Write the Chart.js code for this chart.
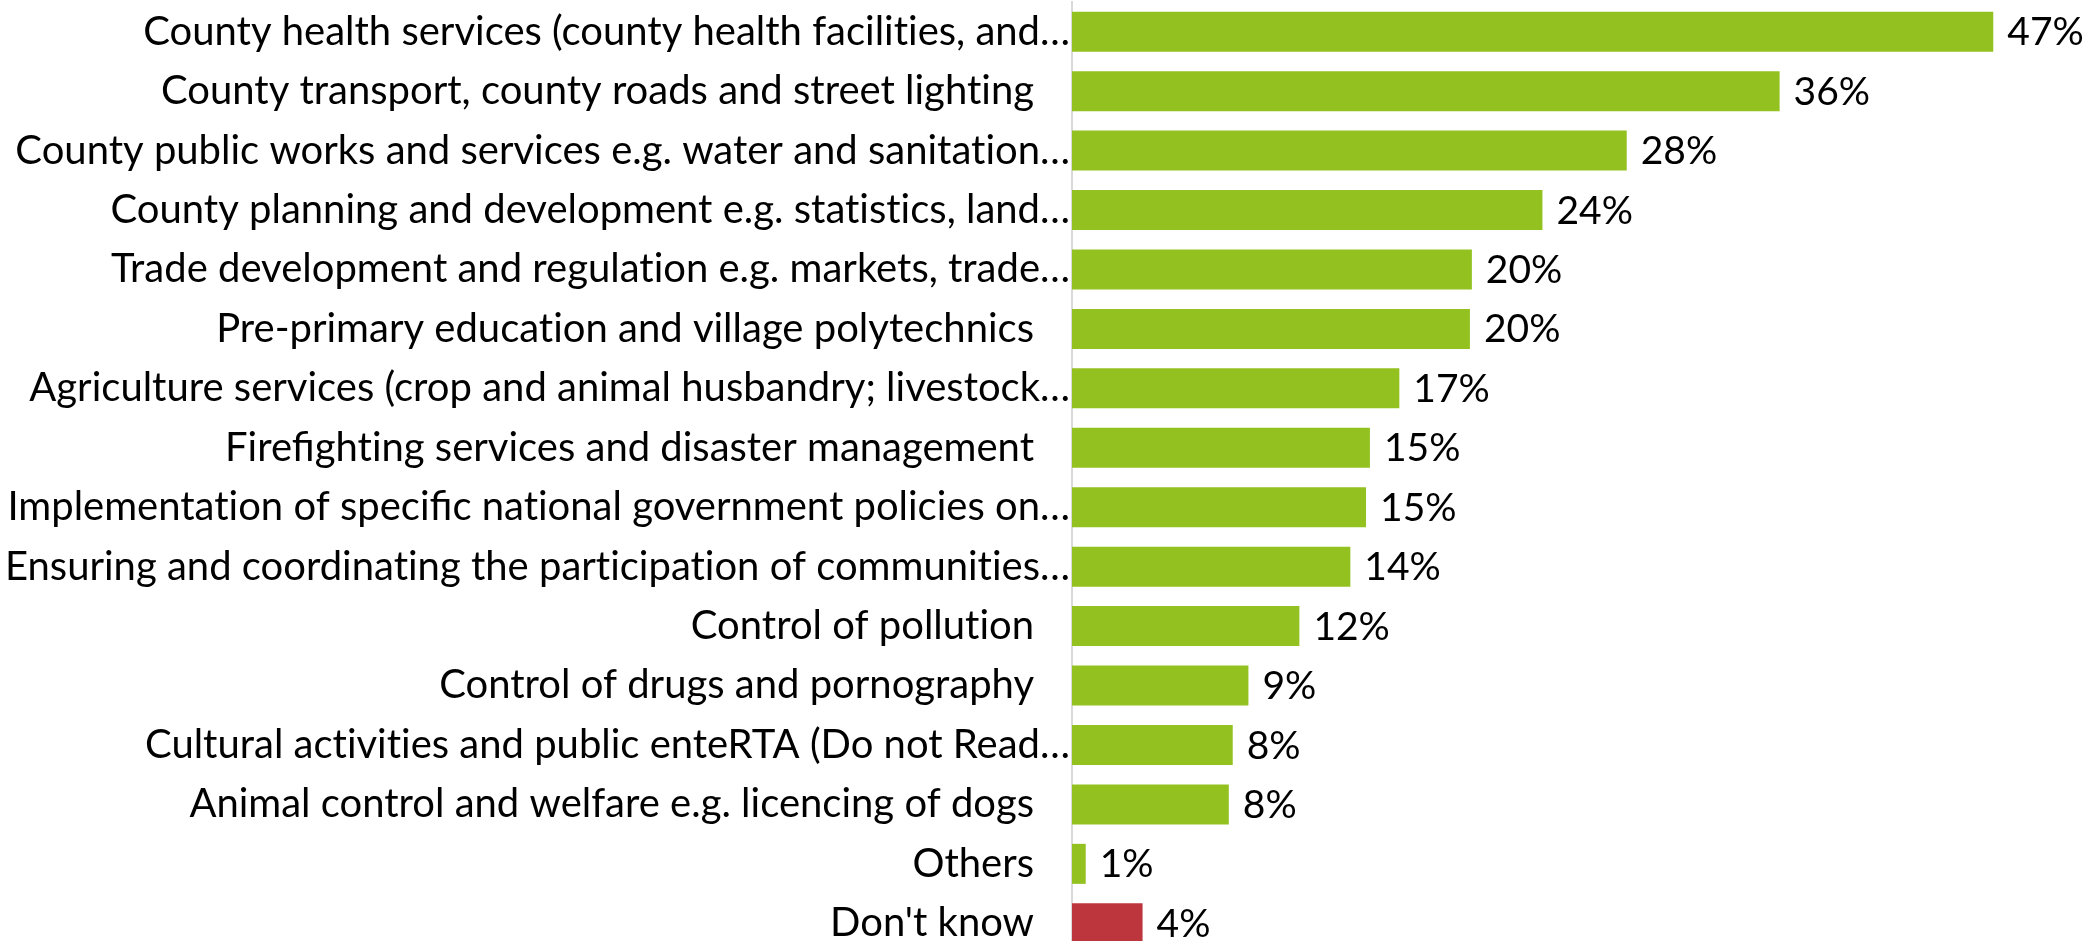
<!DOCTYPE html>
<html>
<head>
<meta charset="utf-8">
<script src="https://cdn.jsdelivr.net/npm/chart.js@4"></script>
<style>
  html, body { margin: 0; padding: 0; background: #ffffff; overflow: hidden; }
  #wrap { width: 2085px; height: 953px; }
</style>
</head>
<body>
<div id="wrap"><canvas id="chart" width="2085" height="953"></canvas></div>
<script>
// DATA
const categories = [
    "County health services (county health facilities, and\u2026",
    "County transport, county roads and street lighting",
    "County public works and services e.g. water and sanitation\u2026",
    "County planning and development e.g. statistics, land\u2026",
    "Trade development and regulation e.g. markets, trade\u2026",
    "Pre-primary education and village polytechnics",
    "Agriculture services (crop and animal husbandry; livestock\u2026",
    "Firefighting services and disaster management",
    "Implementation of specific national government policies on\u2026",
    "Ensuring and coordinating the participation of communities\u2026",
    "Control of pollution",
    "Control of drugs and pornography",
    "Cultural activities and public enteRTA (Do not Read\u2026",
    "Animal control and welfare e.g. licencing of dogs",
    "Others",
    "Don't know"
];
const shares = [47.0, 36.1, 28.3, 24.0, 20.4, 20.3, 16.7, 15.2, 15.0, 14.2, 11.6, 9.0, 8.2, 8.0, 0.7, 3.6];
const barColors = categories.map(c => c === "Don't know" ? "#be363d" : "#93c11f");

const CAT_FONT = "40px Lato, 'Open Sans', sans-serif";
const VAL_FONT = "39px Lato, 'Open Sans', sans-serif";

// category labels + value labels
const labelPlugin = {
    id: "labels",
    afterDatasetsDraw(chart) {
        const c = chart.ctx;
        const y = chart.scales.y;
        const meta = chart.getDatasetMeta(0);
        c.save();
        c.fillStyle = "#000";
        c.textBaseline = "middle";
        categories.forEach((txt, i) => {
            const py = y.getPixelForValue(i);
            const cut = txt.endsWith("\u2026");
            // break Lato's "ti" ligature
            c.font = CAT_FONT;
            c.textAlign = "right";
            c.fillText(txt.replace(/ti/g, "t\u200Ci"), y.right - (cut ? 2 : 38), py);
            const bar = meta.data[i];
            c.font = VAL_FONT;
            c.textAlign = "left";
            c.fillText(Math.round(shares[i]) + "%", bar.x + 14, py + 1);
        });
        c.restore();
    }
};

new Chart(document.getElementById("chart"), {
    type: "bar",
    data: {
        labels: categories,
        datasets: [{
            data: shares,
            backgroundColor: barColors,
            barPercentage: 0.673,
            categoryPercentage: 1
        }]
    },
    options: {
        indexAxis: "y",
        responsive: false,
        animation: false,
        devicePixelRatio: 1,
        layout: { padding: { top: 2, left: 0, right: 0, bottom: 0 } },
        plugins: {
            legend: { display: false },
            tooltip: { enabled: false }
        },
        scales: {
            x: { display: false, min: 0, max: 51.68 },
            y: {
                afterFit(axis) { axis.width = 1072; },
                grid: { display: false },
                border: { display: true, color: "#d9d9d9", width: 2 },
                ticks: { display: false }
            }
        }
    },
    plugins: [labelPlugin]
});
</script>
</body>
</html>
